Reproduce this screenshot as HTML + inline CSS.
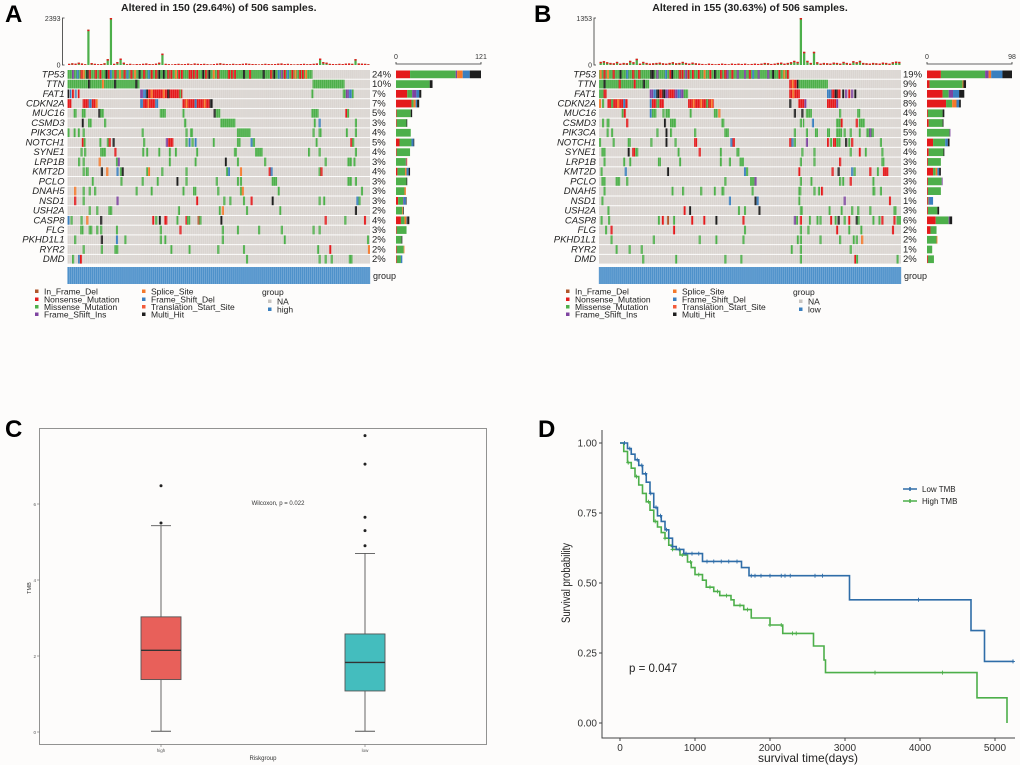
<!DOCTYPE html>
<html><head><meta charset="utf-8">
<style>
html,body{margin:0;padding:0;background:#fff;}
svg{display:block;font-family:"Liberation Sans",sans-serif;}
</style></head>
<body>
<svg id="fig" width="1020" height="765" viewBox="0 0 1020 765" xmlns="http://www.w3.org/2000/svg">
<rect x="0" y="0" width="1020" height="765" fill="#fdfcfb"/>
<g id="gA"></g>
<g id="gB"></g>
<g id="gC"></g>
<g id="gD"></g>
</svg>
<script>
// ---------- shared data ----------
const genes = ["TP53","TTN","FAT1","CDKN2A","MUC16","CSMD3","PIK3CA","NOTCH1","SYNE1","LRP1B","KMT2D","PCLO","DNAH5","NSD1","USH2A","CASP8","FLG","PKHD1L1","RYR2","DMD"];
// type codes: 0 Missense, 1 Nonsense, 2 FS_Ins, 3 FS_Del, 4 Splice, 5 Multi, 6 In_Frame_Del, 7 Translation_Start
const typeColors = ["#4DAF4A","#E41A1C","#7E44A0","#3A7FBF","#F4782A","#1E1E1E","#B0552A","#F25A3A"];

// Panel A
const pctA = ["24%","10%","7%","7%","5%","3%","4%","5%","4%","3%","4%","3%","3%","3%","2%","4%","3%","2%","2%","2%"];
// right bar counts: [missense? order red,green,purple,orange,blue,black]
const rbA = [[20,65,2,8,10,16],[0,48,0,0,0,4],[16,7,6,0,4,3],[22,3,0,3,2,3],[1,20,0,0,0,2],[1,14,0,0,0,1],[0,21,0,0,0,0],[5,17,0,0,3,1],[1,19,0,0,0,0],[0,14,1,1,0,0],[2,11,0,2,3,2],[0,15,0,0,0,1],[0,12,0,2,0,0],[3,7,1,0,3,1],[0,9,0,1,0,1],[7,5,0,3,1,3],[1,14,0,0,0,0],[0,8,0,0,0,1],[1,10,0,1,0,0],[1,6,0,0,2,0]];
const segA = [
 [[0,81,0],[1.5,2],[3,3],[4.3,1],[5,4],[6.2,5],[7,1],[9,1],[10.5,1],[12.5,5],[13.3,1],[14,3],[15.5,1],[17,4],[18.5,1],[19.5,3],[20.8,1],[22,4],[23.5,5],[25,1],[26.5,3],[27.5,1],[29,1],[30,5],[31.5,5],[33,1],[34,1],[35.5,4],[36.5,1],[37.5,1],[40,1],[40.6,1],[41.5,1],[42.5,1],[44.5,5],[45.5,1],[46.5,5],[48,4],[49.5,1],[53,1],[54,1],[55,1],[58,5],[60,1],[64.5,5],[67,1],[68,5],[69.5,3],[70.5,2],[71.5,1],[72.5,3],[74,1],[75,4],[76.5,1],[77.5,1],[78.5,4]],
 [[0,23.8,0],[6.8,5],[11.4,4],[15.4,5],[22.4,5],[81,91.6,0]],
 [[0,0.6,5],[0.8,1.3,3],[1.5,2.2,1],[2.5,3,3],[3.4,4,1],[24,25,2],[25,26,3],[26,26.6,5],[26.6,38,1],[27.5,4],[30,1],[31.5,4],[33,5],[37,37.6,0],[80.6,0],[91,92,0],[92,93,2],[93,94,3],[94,94.6,0]],
 [[0,1.3,1],[5,7,1],[7,8,3],[8,9.3,1],[9.3,10,4],[24,25,3],[25,26.5,1],[26.5,4],[27,29,1],[29,30,3],[38,47,1],[39,4],[42,3],[45,4],[47,48,5]],
 [[2,3,0],[4.7,6,0],[10.2,5],[10.8,12,0],[30.5,32.5,0],[38,0],[48.3,5],[49,50.5,0],[80.6,83,0],[91.8,1],[92.4,0]],
 [[4.7,5],[6.8,8,0],[12.1,0],[38.5,39.3,0],[50.5,55.5,0],[81.4,0],[83,3],[95,0]],
 [[0,0],[2,0],[3.4,0],[5,0],[24.5,0],[39,0],[40.5,41.5,0],[56,60.5,0],[81,0],[83,84,0],[92,0],[95,0]],
 [[4.7,1],[5.3,6,0],[10.5,0],[13,0],[13.6,1],[14.9,5],[25,0],[32.5,2],[33.2,35,1],[39,0],[40,3],[41,0],[42,3],[48,0],[56,57.2,0],[60.5,3],[61.2,62,0],[82,0],[93.5,1],[94.1,0]],
 [[4.3,0],[5.5,0],[10.8,12.7,0],[15.5,1],[24.7,0],[26,0],[30,0],[33.5,0],[35.5,0],[42.5,0],[55,56,0],[62,64.5,0],[79.5,0],[83,0],[95,0]],
 [[3.5,0],[5,0],[10.3,4],[16,0],[16.6,2],[33.5,0],[42,0],[52,5],[56,0],[65,0],[85,0],[92.5,94,0],[94.5,0]],
 [[5,0],[6,7,0],[11,5],[12.8,4],[16.2,3],[17.3,0],[17.9,5],[26,0],[26.6,4],[31,0],[39,0],[52.4,0],[53,3],[57,4],[66.5,1],[67.1,3],[83,0],[83.6,1]],
 [[8,0],[17.5,0],[24.5,0],[29.5,0],[36,5],[39,0],[49,0],[56,0],[57,0],[67.5,69.3,0],[92.5,94,0],[95,0]],
 [[2.2,4],[5,0],[7,0],[8.8,0],[22.5,0],[27.5,0],[38,0],[41.5,42.6,0],[49.5,0],[57,0],[57.6,4],[69.5,0],[97,0]],
 [[2.2,1],[5,0],[16.2,2],[42.5,1],[51.5,0],[53.5,0],[58,0],[60.5,1],[67.5,5],[83,0],[84.5,0],[95.5,3],[96.2,0]],
 [[7,0],[9.5,0],[13.5,14.8,0],[36.5,0],[50,0],[51,4],[59,0],[70,0],[95,5]],
 [[0,3],[1,0],[4.3,0],[6.2,4],[10.8,5],[28,1],[29,0],[30.2,5],[32,33,1],[36,0],[39,1],[39.5,40.6,0],[43,6],[43.6,0],[50.5,5],[85,1],[91.5,0],[98,1]],
 [[4.2,5.3,0],[7,8.2,0],[9.5,0],[10.8,0],[16,0],[30.5,0],[37,1],[51,0],[56,0],[63,0],[70.5,0],[81,0],[83,0]],
 [[2.2,0],[11,5],[16,3],[18.8,0],[30.5,0],[32,0],[51,0],[71.5,0],[99,0]],
 [[5,0],[11,0],[15.5,16.8,0],[34,0],[40,0],[49.5,0],[58,0],[82.5,0],[86.5,1],[99.3,4]],
 [[1.5,0],[3.5,3],[4.1,1],[59,0],[83,0],[85,0],[87,0],[93,94.2,0]]
];
const tmbA = [60,90,70,120,80,40,1800,100,60,40,50,90,300,2393,60,150,330,120,40,60,30,50,40,60,80,50,40,70,120,580,60,40,30,50,60,40,50,70,40,80,60,50,60,40,30,50,70,90,60,50,40,60,40,50,60,80,60,50,40,30,40,60,50,40,50,70,80,50,60,40,30,40,50,60,40,50,60,80,330,150,120,60,50,40,60,50,70,80,60,300,80,70,60,40];
// Panel B
const pctB = ["19%","9%","9%","8%","4%","4%","5%","5%","4%","3%","3%","3%","3%","1%","3%","6%","2%","2%","1%","2%"];
const rbB = [[16,51,4,3,13,11],[3,38,0,1,0,3],[18,7,5,0,7,6],[22,7,0,5,3,2],[1,17,0,0,0,2],[2,16,0,0,0,1],[0,26,1,0,0,0],[7,14,0,0,3,2],[2,17,0,0,0,1],[1,15,0,0,0,0],[7,3,0,2,2,2],[1,16,1,0,0,0],[1,15,0,0,0,0],[1,1,1,0,4,0],[1,11,0,0,0,2],[10,15,1,0,0,3],[4,7,0,0,0,0],[0,11,0,1,0,0],[0,6,0,0,0,0],[1,7,0,0,0,0]];
const segB = [
 [[0,63,0],[0.2,4],[1.5,1],[2.6,4],[4.5,1],[6.8,5],[9,3],[11,1],[13,1],[17,5],[17.6,5],[19,2],[21.8,3],[23.3,1],[23.9,5],[26.4,1],[27.3,1],[28.4,2],[29.3,1],[30.8,1],[32.7,1],[34.6,4],[36.5,1],[38.1,5],[40.1,1],[41.5,1],[42.2,2],[43.8,1],[45.6,2],[48,2],[49.6,1],[50.7,3],[52.5,2],[55.7,2],[57.3,5],[59.4,1],[61,4],[62.2,1]],
 [[0,16.6,0],[1.5,5],[6.5,1],[11.5,1],[14.5,5],[63,65.5,1],[63.8,4],[65.5,5],[66.1,75.8,0]],
 [[0,2.5,0],[1.5,2.5,1],[16.8,18,2],[18,19,3],[19,20,5],[20,21,1],[21,22,5],[22,23,2],[23,25,1],[25,26,2],[26,27,3],[27,28,2],[28,29.5,0],[63,66.5,1],[64,4],[75.5,77,3],[77,78,1],[78,79,5],[79,80,1],[80.5,5],[81.5,2],[82.5,1],[83.5,2],[84.5,5]],
 [[0,4],[1,0],[2.8,9.5,1],[4,0],[6,4],[8,3],[16.8,17.5,3],[17.5,19,1],[19,20,0],[20,21.5,1],[29.5,38,1],[31,4],[33.5,4],[35.5,0],[37,4],[63,5],[66,68,1],[68,2],[75.5,78.5,1],[78.5,2]],
 [[7.5,0],[8.2,1],[16.8,3],[17.5,19,0],[21,0],[22,23.5,0],[30,0],[38,39.3,0],[39.5,4],[64.5,5],[67,5],[68.5,70.5,0],[79.5,0],[85.5,86.5,0]],
 [[1,0],[2.5,3.5,0],[9,1],[21.5,5],[23.5,25.5,0],[40.5,41.5,0],[66.5,0],[67.5,68,0],[70.5,3],[78.5,80,0],[80,1],[85,1],[86,88,0]],
 [[2.5,0],[4,0],[19,0],[22,5],[23.5,0],[31.5,0],[41.5,43,0],[64.5,0],[68.5,0],[71.5,72.5,0],[75.5,76.5,0],[78.5,80.5,0],[81,0],[83,0],[86,0],[88.5,91,0],[89.5,2]],
 [[0,0],[4.5,0],[9.5,10.5,0],[17,0],[22,5],[25,0],[31.5,32.5,1],[43.5,3],[44.2,45,1],[63,1],[63.7,3],[64.5,0],[68.5,2],[75.5,1],[76.5,0],[77.5,78.5,1],[78.5,80,0],[81.5,5],[82.5,0],[83.5,1],[93,0]],
 [[0.8,2.2,0],[9.5,5],[11,12,1],[12,13,0],[26,0],[33,1],[40,0],[45.5,46.5,0],[67,0],[71,0],[83,0],[86,1],[88,0],[93.5,0]],
 [[1.5,0],[8,0],[10,0],[19.5,20.5,0],[26.5,0],[40,0],[43,0],[46.5,48,0],[66.5,0],[71,0],[79.5,1],[93.5,94.5,0]],
 [[0.5,0],[8.5,3],[22.5,5],[48,3],[48.7,0],[66,1],[77,1],[79,5],[83.5,3],[84.3,0],[89.5,1],[92,0],[94,95.8,1]],
 [[0.8,2.2,0],[5.5,7,0],[9,0],[41.5,0],[50,51.5,0],[51.5,2],[66.5,0],[70,0],[79.5,0],[80.5,0],[83,1],[90.5,0]],
 [[1.5,0],[24,0],[27.5,0],[33.5,0],[38,0],[40.5,41.5,0],[50.5,0],[66,67,0],[71,0],[72.5,0],[73.5,1],[90.5,91.5,0],[93,0]],
 [[0.8,0],[43,3],[51.5,5],[52.2,3],[66,0],[81,2],[96,1]],
 [[2.8,0],[28,1],[29.8,5],[46,0],[48,0],[52.8,5],[66.5,67.5,0],[76,0],[80,0],[83.5,0],[85.5,0],[89.5,0],[97.5,98.5,0]],
 [[0.5,0],[3,0],[19.5,0],[20.8,1],[22.5,6],[24.5,0],[30.5,1],[34.5,1],[38.5,5],[47.5,1],[64.5,2],[65.2,0],[66.5,1],[69.5,0],[72,0],[73,0],[76.5,1],[78,0],[79,5],[81,0],[82.5,1],[85,5],[85.6,0],[90.5,0],[92.5,0],[93.5,1],[97.5,1],[98.5,100,0]],
 [[2,0],[3.8,1],[24.5,1],[48,0],[66.5,0],[69,0],[78.5,1],[82.5,0],[86.5,0],[97,1]],
 [[3.8,0],[17.8,0],[33,0],[38.5,0],[47.5,0],[65.5,0],[66.5,0],[73,0],[79.5,0],[84,0],[85,0],[86.8,4]],
 [[5.5,0],[9.8,0],[13.8,0],[63.5,0],[66.5,0],[83,0]],
 [[14.3,0],[25.2,0],[41.5,0],[46.8,0],[66.5,0],[84.5,1],[85.1,0],[98.5,0]]
];
const tmbB = [90,110,80,60,50,90,40,60,50,120,80,180,40,90,60,40,50,60,70,50,40,60,80,50,60,90,60,40,70,50,40,30,20,40,30,20,30,40,30,20,40,30,40,30,40,20,30,40,30,40,60,50,30,40,60,70,40,60,80,120,90,1353,380,120,60,380,80,40,60,50,40,70,60,40,90,60,40,110,80,120,60,50,40,60,50,40,70,60,40,80,100,90];

function el(tag, attrs, parent, text){
  const e = document.createElementNS("http://www.w3.org/2000/svg", tag);
  for (const k in attrs) e.setAttribute(k, attrs[k]);
  if (text !== undefined) e.textContent = text;
  parent.appendChild(e);
  return e;
}

function oncoplot(g, o){
  const mx0 = o.mx0, mx1 = o.mx1, my0 = 70, rowH = 9.73;
  const W = mx1 - mx0;
  const X = p => mx0 + p / 100 * W;
  // title
  const t = el("text", {x:(mx0+mx1)/2, y:11, "text-anchor":"middle", "font-size":"10.5", "font-weight":"bold", fill:"#222"}, g, o.title);
  
  
  const lt = el("text", {x:o.letterX, y:22, "font-size":"24", "font-weight":"bold", fill:"#000"}, g, o.letter);
  
  
  // top TMB bars
  const ty0 = 65, ty1 = 18;
  const TY = v => ty0 - v / o.tmbMax * (ty0 - ty1);
  const axl = el("path", {d:`M${mx0-3},${ty1}H${mx0-5}V${ty0}H${mx0-3}`, stroke:"#333", fill:"none", "stroke-width":"0.8"}, g);
  
  
  const tl1 = el("text", {x:mx0-7, y:ty1+3, "text-anchor":"end", "font-size":"7", fill:"#333"}, g, String(o.tmbMax));
  
  
  const tl0 = el("text", {x:mx0-7, y:ty0+2.5, "text-anchor":"end", "font-size":"7", fill:"#333"}, g, "0");
  
  
  const n = o.tmb.length, bw = W / n;
  o.tmb.forEach((v, i) => {
    const y = TY(v);
    const b = el("rect", {x:mx0 + i*bw + 0.5, y:y, width:Math.max(bw-1,1), height:ty0-y, fill:"#4DAF4A"}, g);
    
    
    const c = el("rect", {x:mx0 + i*bw + 0.5, y:y, width:Math.max(bw-1,1), height:Math.min(1.5, ty0-y), fill:"#E41A1C"}, g);
    
    
  });
  // matrix rows
  genes.forEach((gname, r) => {
    const y = my0 + r * rowH;
    const bg = el("rect", {x:mx0, y:y, width:W, height:rowH-1, fill:"#DAD5D1"}, g);
    
    
    o.segs[r].forEach(s => {
      let a, b, ty;
      if (s.length === 3) { a = s[0]; b = s[1]; ty = s[2]; } else { a = s[0]; b = s[0] + 0.7; ty = s[1]; }
      const m = el("rect", {x:X(a), y:y, width:Math.max(X(b)-X(a),1.2), height:rowH-1, fill:typeColors[ty]}, g);
      
      
    });
    const gl = el("text", {x:mx0-3, y:y+7.3, "text-anchor":"end", "font-size":"9.5", "font-style":"italic", fill:"#222"}, g, gname);
    
    
    const pl = el("text", {x:mx1+2, y:y+7.3, "font-size":"9.5", fill:"#222"}, g, o.pct[r]);
    
    
    // right stacked bar
    const order = [1,0,2,4,3,5];
    let cx = o.rx0;
    o.rb[r].forEach((v, k) => {
      if (v <= 0) return;
      const w = v / o.rbMax * (o.rx1 - o.rx0);
      const rb = el("rect", {x:cx, y:y+0.5, width:w, height:rowH-2, fill:typeColors[order[k]]}, g);
      
      
      cx += w;
    });
  });
  // grid column lines
  for (let i = 0; i <= 150; i++) {
    const gl = el("line", {x1:mx0 + i*W/150, x2:mx0 + i*W/150, y1:my0, y2:my0+20*rowH, stroke:"#ffffff", "stroke-width":"0.3", opacity:"0.5"}, g);
    
    
  }
  // right bar axis
  const ra = el("path", {d:`M${o.rx0},62V64H${o.rx1}V62`, stroke:"#333", fill:"none", "stroke-width":"0.8"}, g);
  
  
  const r0 = el("text", {x:o.rx0, y:59, "text-anchor":"middle", "font-size":"7", fill:"#333"}, g, "0");
  
  
  const r1 = el("text", {x:o.rx1, y:59, "text-anchor":"middle", "font-size":"7", fill:"#333"}, g, String(o.rbMax));
  
  
  // group bar
  const gb = el("rect", {x:mx0, y:267, width:W, height:17, fill:"#4E91CA"}, g);
  
  
  for (let i = 0; i <= 150; i++) {
    const gl = el("line", {x1:mx0 + i*W/150, x2:mx0 + i*W/150, y1:267, y2:284, stroke:"#8DB8DE", "stroke-width":"0.5"}, g);
    
    
  }
  const gt = el("text", {x:mx1+3, y:279, "font-size":"9", fill:"#222"}, g, "group");
  
  
  // legend
  const L = o.lx;
  const leg = [
    [L+35, 292, "#B0552A", "In_Frame_Del"], [L+35, 300, "#E41A1C", "Nonsense_Mutation"], [L+35, 307.5, "#4DAF4A", "Missense_Mutation"], [L+35, 315, "#7E44A0", "Frame_Shift_Ins"],
    [L+142, 292, "#F4782A", "Splice_Site"], [L+142, 300, "#3A7FBF", "Frame_Shift_Del"], [L+142, 307.5, "#F25A3A", "Translation_Start_Site"], [L+142, 315, "#1E1E1E", "Multi_Hit"],
    [L+268, 302, "#C8C4C0", "NA"], [L+268, 310, "#3A7FBF", o.grp]
  ];
  leg.forEach(d => {
    const s = el("rect", {x:d[0], y:d[1]-2.5, width:3.5, height:3.5, fill:d[2]}, g);
    
    
    const tx = el("text", {x:d[0]+9, y:d[1]+2.5, "font-size":"8.5", fill:"#222"}, g, d[3]);
    
    
  });
  const lg = el("text", {x:L+262, y:295, "font-size":"8.5", fill:"#222"}, g, "group");
  
  
}

oncoplot(document.getElementById("gA"), {mx0:67.5, mx1:370, rx0:396, rx1:481, rbMax:121, tmbMax:2393, tmb:tmbA, segs:segA, pct:pctA, rb:rbA, title:"Altered in 150 (29.64%) of 506 samples.", letter:"A", letterX:5, lx:0, grp:"high"});
oncoplot(document.getElementById("gB"), {mx0:599, mx1:901, rx0:927, rx1:1012, rbMax:98, tmbMax:1353, tmb:tmbB, segs:segB, pct:pctB, rb:rbB, title:"Altered in 155 (30.63%) of 506 samples.", letter:"B", letterX:534, lx:531, grp:"low"});

// ---------- Panel C: boxplot ----------
const boxGroups = ["high","low"];
const boxQ1 = [1.38, 1.08];
const boxMed = [2.15, 1.83];
const boxQ3 = [3.03, 2.58];
const boxLo = [0.02, 0.02];
const boxHi = [5.43, 4.7];
const outliersHigh = [5.5, 6.48];
const outliersLow = [4.9, 5.3, 5.65, 7.05, 7.8];
const boxFill = ["#E8605A","#44BDBE"];
const cTicks = [0,2,4,6];
(function(){
  const g = document.getElementById("gC");
  const CY = v => 732 - v * 38;
  const CX = i => [161, 365][i];
  const lt = el("text", {x:5, y:437, "font-size":"24", "font-weight":"bold", fill:"#000"}, g, "C");
  
  
  const fr = el("rect", {x:39.5, y:428.5, width:447, height:316, fill:"#fdfcfb", stroke:"#777", "stroke-width":"0.8"}, g);
  
  
  cTicks.forEach(t => {
    const tk = el("line", {x1:37, x2:39.5, y1:CY(t), y2:CY(t), stroke:"#666", "stroke-width":"0.6"}, g);
    
    
    const tl = el("text", {x:36, y:CY(t)+2, "text-anchor":"end", "font-size":"4.5", fill:"#555"}, g, String(t));
    
    
  });
  const ya = el("text", {x:31, y:588, "text-anchor":"middle", "font-size":"5.5", fill:"#333", transform:"rotate(-90 31 588)"}, g, "TMB");
  
  
  const xa = el("text", {x:263, y:760, "text-anchor":"middle", "font-size":"6", fill:"#333"}, g, "Riskgroup");
  
  
  const wt = el("text", {x:278, y:505, "text-anchor":"middle", "font-size":"6", fill:"#333"}, g, "Wilcoxon, p = 0.022");
  
  
  boxGroups.forEach((name, i) => {
    const x = CX(i), hw = 20;
    const w1 = el("line", {x1:x, x2:x, y1:CY(boxHi[i]), y2:CY(boxLo[i]), stroke:"#555", "stroke-width":"0.9"}, g);
    
    
    [boxHi[i], boxLo[i]].forEach(v => {
      const c = el("line", {x1:x-10, x2:x+10, y1:CY(v), y2:CY(v), stroke:"#555", "stroke-width":"0.9"}, g);
      
      
    });
    const b = el("rect", {x:x-hw, y:CY(boxQ3[i]), width:hw*2, height:CY(boxQ1[i])-CY(boxQ3[i]), fill:boxFill[i], stroke:"#555", "stroke-width":"0.9"}, g);
    
    
    const m = el("line", {x1:x-hw, x2:x+hw, y1:CY(boxMed[i]), y2:CY(boxMed[i]), stroke:"#333", "stroke-width":"1.3"}, g);
    
    
    (i === 0 ? outliersHigh : outliersLow).forEach(v => {
      const p = el("circle", {cx:x, cy:CY(v), r:1.5, fill:"#222"}, g);
      
      
    });
    const tk = el("line", {x1:x, x2:x, y1:744.5, y2:747, stroke:"#666", "stroke-width":"0.6"}, g);
    
    
    const xl = el("text", {x:x, y:752, "text-anchor":"middle", "font-size":"4.5", fill:"#555"}, g, name);
    
    
  });
})();

// ---------- Panel D: KM ----------
const lowT = [0,100,150,200,250,300,350,400,450,500,550,600,650,700,750,850,1100,1620,1720,3060,4680,4860,5250];
const lowS = [1,0.98,0.96,0.94,0.92,0.89,0.86,0.82,0.77,0.74,0.72,0.69,0.66,0.63,0.62,0.605,0.577,0.555,0.526,0.44,0.33,0.22,0.22];
const highT = [0,50,100,150,200,250,300,350,400,450,500,550,600,650,700,800,900,950,1000,1100,1150,1250,1330,1480,1520,1650,1750,2000,2170,2580,2720,2740,4760,5160];
const highS = [1,0.97,0.93,0.91,0.88,0.85,0.82,0.79,0.76,0.72,0.70,0.68,0.66,0.635,0.62,0.60,0.575,0.555,0.53,0.51,0.485,0.47,0.455,0.44,0.42,0.405,0.375,0.35,0.32,0.275,0.225,0.18,0.09,0.0];
const lowCens = [60,130,230,290,340,410,480,540,620,700,790,880,960,1050,1160,1250,1350,1450,1560,1750,1800,1880,2000,2150,2200,2270,2600,2700,3980,5240];
const highCens = [110,220,380,470,600,700,830,940,1050,1200,1300,1420,1600,1700,2000,2150,2300,2350,3400,4300];
const dXTicks = [0,1000,2000,3000,4000,5000];
const dYTicks = [0,0.25,0.5,0.75,1];
(function(){
  const g = document.getElementById("gD");
  const DX = t => 620 + t / 5000 * 375;
  const DY = s => 723 - s * 280;
  const lt = el("text", {x:538, y:437, "font-size":"24", "font-weight":"bold", fill:"#000"}, g, "D");
  
  
  const ax = el("path", {d:"M602,430V738H1015", stroke:"#444", fill:"none", "stroke-width":"1"}, g);
  
  
  dYTicks.forEach(t => {
    const tk = el("line", {x1:599, x2:602, y1:DY(t), y2:DY(t), stroke:"#444"}, g);
    
    
    const tl = el("text", {x:597, y:DY(t)+3.5, "text-anchor":"end", "font-size":"10", fill:"#333"}, g, t.toFixed(2));
    
    
  });
  dXTicks.forEach(t => {
    const tk = el("line", {x1:DX(t), x2:DX(t), y1:738, y2:741, stroke:"#444"}, g);
    
    
    const tl = el("text", {x:DX(t), y:751, "text-anchor":"middle", "font-size":"10", fill:"#333"}, g, String(t));
    
    
  });
  const xt = el("text", {x:808, y:762, "text-anchor":"middle", "font-size":"12", fill:"#222"}, g, "survival time(days)");
  
  
  const yt = el("text", {x:570, y:583, "text-anchor":"middle", "font-size":"11.5", fill:"#222", transform:"rotate(-90 570 583)", textLength:"80", lengthAdjust:"spacingAndGlyphs"}, g, "Survival probability");
  
  
  const pv = el("text", {x:629, y:672, "font-size":"11.5", fill:"#222"}, g, "p = 0.047");
  
  
  function stepPath(T, S){
    let d = `M${DX(T[0])},${DY(S[0])}`;
    for (let i = 1; i < T.length; i++) d += `H${DX(T[i])}V${DY(S[i])}`;
    return d;
  }
  function survAt(T, S, t){ let s = S[0]; for (let i = 0; i < T.length; i++) if (T[i] <= t) s = S[i]; return s; }
  [[highT, highS, highCens, "#4DAF4A", "high-tmb"], [lowT, lowS, lowCens, "#2F6DA8", "low-tmb"]].forEach(c => {
    const p = el("path", {d:stepPath(c[0], c[1]), stroke:c[3], fill:"none", "stroke-width":"1.6"}, g);
    
    
    c[2].forEach(t => {
      const y = DY(survAt(c[0], c[1], t)), x = DX(t);
      const m = el("path", {d:`M${x-2},${y}H${x+2}M${x},${y-2}V${y+2}`, stroke:c[3], "stroke-width":"0.9"}, g);
      
      
    });
  });
  [[489, "#2F6DA8", "Low TMB"], [501, "#4DAF4A", "High TMB"]].forEach(l => {
    const ln = el("path", {d:`M903,${l[0]}H917M910,${l[0]-2}V${l[0]+2}`, stroke:l[1], "stroke-width":"1.5", fill:"none"}, g);
    
    
    const tx = el("text", {x:922, y:l[0]+3, "font-size":"8", fill:"#222"}, g, l[2]);
    
    
  });
})();
</script>
</body></html>
